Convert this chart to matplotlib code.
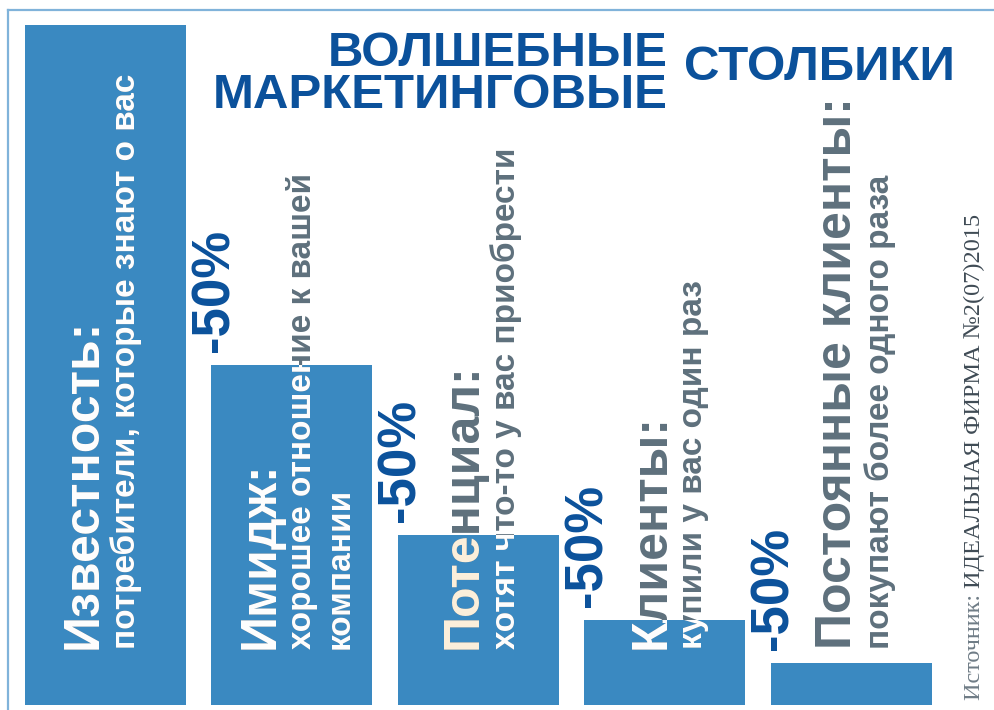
import matplotlib
matplotlib.use("Agg")
import matplotlib.pyplot as plt
from matplotlib.transforms import Affine2D
from matplotlib.lines import Line2D

# ---- data ----
categories = ["Известность", "Имидж", "Потенциал", "Клиенты", "Постоянные клиенты"]
values = [100, 50, 25, 12.5, 6.25]
titles = ["Известность:", "Имидж:", "Потенциал:", "Клиенты:", "Постоянные клиенты:"]
subtitles = [
    ["потребители, которые знают о вас"],
    ["хорошее отношение к вашей", "компании"],
    ["хотят что-то у вас приобрести"],
    ["купили у вас один раз"],
    ["покупают более одного раза"],
]
drop_labels = ["-50%", "-50%", "-50%", "-50%"]
chart_title_l1 = "ВОЛШЕБНЫЕ"
chart_title_l2 = "МАРКЕТИНГОВЫЕ"
chart_title_r = "СТОЛБИКИ"
source_label = "Источник: "
source_text = "ИДЕАЛЬНАЯ ФИРМА №2(07)2015"

# ---- style ----
BAR = "#3a89c1"
GRAY = "#5e707c"
BLUE = "#0b519b"
CREAM = "#fdf0dc"
BORDER = "#80b3da"
FONT = "Liberation Sans"

W, H = 995, 710
fig = plt.figure(figsize=(W / 100, H / 100), dpi=100)
fig.patch.set_facecolor("white")
ax = fig.add_axes([0, 0, 1, 1])
ax.set_axis_off()

pitch = 186.5            # px per category
ppu = 6.8                # px per value unit
x0_px, y0_px = 105.5, 705
ax.set_xlim(-x0_px / pitch, (W - x0_px) / pitch)
ax.set_ylim(-(H - y0_px) / ppu, y0_px / ppu)

xs = list(range(len(values)))
bars = ax.bar(xs, values, width=161 / pitch, color=BAR, zorder=2)

# pixel transform (origin top-left)
PX = Affine2D().scale(1 / W, -1 / H).translate(0, 1) + fig.transFigure

# border
fig.add_artist(Line2D([7.5, W], [9.5, 9.5], transform=PX, color=BORDER, lw=1.6))
fig.add_artist(Line2D([7.5, 7.5], [9.5, H], transform=PX, color=BORDER, lw=1.6))

# chart title
ttl = dict(transform=PX, va="baseline", fontsize=35.5, fontweight="bold",
           color=BLUE, family=FONT)
fig.text(668, 66, chart_title_l1, ha="right", **ttl)
fig.text(668, 108, chart_title_l2, ha="right", **ttl)
fig.text(684, 80, chart_title_r, ha="left", fontstretch="expanded", **ttl)


def two_tone(x, y, s, size, inside_color, bar):
    kw = dict(transform=PX, rotation=90, rotation_mode="anchor", ha="left",
              va="baseline", fontsize=size, fontweight="bold", family=FONT)
    fig.text(x, y, s, color=GRAY, zorder=3, **kw)
    t = fig.text(x, y, s, color=inside_color, zorder=4, **kw)
    t.set_clip_path(bar)


# category labels: (title baseline x, subtitle baseline xs)
title_base = [97, 274, 477, 665, 851]
sub_base = [[135], [311, 349], [515], [702], [889]]
start_y = 649
title_inside = ["white", "white", CREAM, "white", "white"]
for i, bar in enumerate(bars):
    two_tone(title_base[i], start_y, titles[i], 36, title_inside[i], bar)
    for j, line in enumerate(subtitles[i]):
        two_tone(sub_base[i][j], start_y, line, 24, "white", bar)

# -50% labels
for k, lab in enumerate(drop_labels):
    i = k + 1
    left = xs[i] - (161 / pitch) / 2
    ax.text(left + 17 / pitch, values[i] + 13 / ppu, lab, rotation=90,
            rotation_mode="anchor", ha="left", va="baseline", fontsize=38,
            fontweight="bold", color=BLUE, family=FONT, zorder=5)

# source
t1 = fig.text(980, 700, source_label, transform=PX, rotation=90,
              rotation_mode="anchor", ha="left", va="baseline", fontsize=17.5,
              color="#6f7c86", family="Liberation Serif")
fig.canvas.draw()
bb = t1.get_window_extent()
fig.text(980, 700 - bb.height, source_text, transform=PX, rotation=90,
         rotation_mode="anchor", ha="left", va="baseline", fontsize=17.5,
         color="#3f4b55", family="Liberation Serif")

fig.savefig("out.png", dpi=100, facecolor="white")
